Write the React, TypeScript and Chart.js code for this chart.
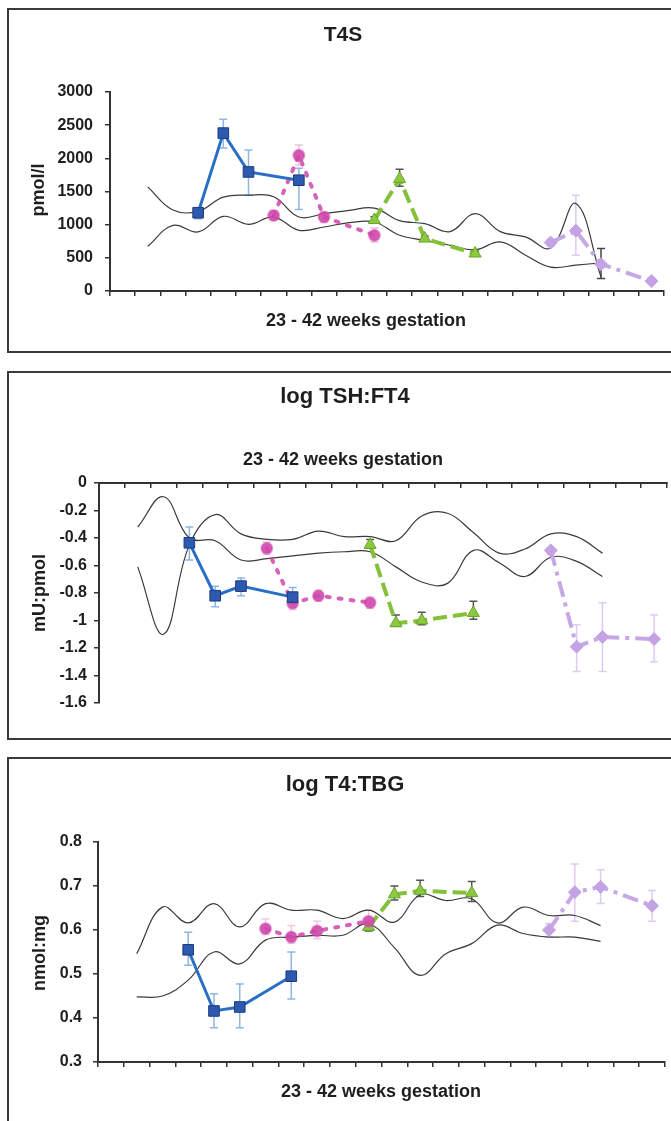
import React, { useEffect, useRef } from "react";
import { Chart, registerables } from "chart.js";

Chart.register(...registerables);

const FONT = '"Liberation Sans", Arial, Helvetica, sans-serif';
const n = null;

// 22 category slots along "23 - 42 weeks gestation" (no printed labels)
const categories = ["", "", "", "", "", "", "", "", "", "", "", "", "", "", "", "", "", "", "", "", "", ""];

// ---------- Panel 1: T4S (pmol/l) ----------
const t4sTicks = [0, 500, 1000, 1500, 2000, 2500, 3000];
const t4sBlue = [n, n, n, 1180, 2380, 1795, n, 1670, n, n, n, n, n, n, n, n, n, n, n, n, n, n];
const t4sBlueLo = [n, n, n, 1090, 2155, 1445, n, 1230, n, n, n, n, n, n, n, n, n, n, n, n, n, n];
const t4sBlueHi = [n, n, n, 1245, 2590, 2125, n, 1850, n, n, n, n, n, n, n, n, n, n, n, n, n, n];
const t4sPink = [n, n, n, n, n, n, 1140, 2045, 1115, n, 840, n, n, n, n, n, n, n, n, n, n, n];
const t4sPinkLo = [n, n, n, n, n, n, 1070, 1900, 1040, n, 740, n, n, n, n, n, n, n, n, n, n, n];
const t4sPinkHi = [n, n, n, n, n, n, 1210, 2200, 1190, n, 950, n, n, n, n, n, n, n, n, n, n, n];
const t4sGreen = [n, n, n, n, n, n, n, n, n, n, 1070, 1690, 790, n, 565, n, n, n, n, n, n, n];
const t4sGreenLo = [n, n, n, n, n, n, n, n, n, n, 1020, 1580, 760, n, 530, n, n, n, n, n, n, n];
const t4sGreenHi = [n, n, n, n, n, n, n, n, n, n, 1120, 1835, 830, n, 600, n, n, n, n, n, n, n];
const t4sLilac = [n, n, n, n, n, n, n, n, n, n, n, n, n, n, n, n, n, 730, 910, 405, n, 150];
const t4sLilacLo = [n, n, n, n, n, n, n, n, n, n, n, n, n, n, n, n, n, 680, 540, n, n, 110];
const t4sLilacHi = [n, n, n, n, n, n, n, n, n, n, n, n, n, n, n, n, n, 780, 1445, n, n, 190];
const t4sDarkLo = [n, n, n, n, n, n, n, n, n, n, n, n, n, n, n, n, n, n, n, 190, n, n];
const t4sDarkHi = [n, n, n, n, n, n, n, n, n, n, n, n, n, n, n, n, n, n, n, 640, n, n];
const t4sUpper = [n, 1570, 1220, 1200, 1415, 1445, 1420, 1115, 1165, 1215, 1250, 1060, 1015, 895, 1165, 895, 815, 650, 1320, 210, n, n];
const t4sLower = [n, 675, 990, 890, 1125, 1005, 1115, 915, 965, 1030, 1040, 840, 765, 690, 620, 740, 540, 360, 390, 425, n, n];

// ---------- Panel 2: log TSH:FT4 (mU:pmol) ----------
const tshBlue = [n, n, n, -0.435, -0.82, -0.75, n, -0.83, n, n, n, n, n, n, n, n, n, n, n, n, n, n];
const tshBlueLo = [n, n, n, -0.56, -0.9, -0.82, n, -0.88, n, n, n, n, n, n, n, n, n, n, n, n, n, n];
const tshBlueHi = [n, n, n, -0.32, -0.75, -0.69, n, -0.76, n, n, n, n, n, n, n, n, n, n, n, n, n, n];
const tshPink = [n, n, n, n, n, n, -0.475, -0.875, -0.82, n, -0.87, n, n, n, n, n, n, n, n, n, n, n];
const tshPinkLo = [n, n, n, n, n, n, -0.52, -0.92, -0.86, n, -0.91, n, n, n, n, n, n, n, n, n, n, n];
const tshPinkHi = [n, n, n, n, n, n, -0.43, -0.83, -0.78, n, -0.83, n, n, n, n, n, n, n, n, n, n, n];
const tshGreen = [n, n, n, n, n, n, n, n, n, n, -0.45, -1.02, -1.0, n, -0.945, n, n, n, n, n, n, n];
const tshGreenLo = [n, n, n, n, n, n, n, n, n, n, -0.47, -1.04, -1.03, n, -0.99, n, n, n, n, n, n, n];
const tshGreenHi = [n, n, n, n, n, n, n, n, n, n, -0.41, -0.96, -0.94, n, -0.86, n, n, n, n, n, n, n];
const tshLilac = [n, n, n, n, n, n, n, n, n, n, n, n, n, n, n, n, n, -0.49, -1.19, -1.12, n, -1.135];
const tshLilacLo = [n, n, n, n, n, n, n, n, n, n, n, n, n, n, n, n, n, -0.52, -1.37, -1.37, n, -1.3];
const tshLilacHi = [n, n, n, n, n, n, n, n, n, n, n, n, n, n, n, n, n, -0.47, -1.03, -0.87, n, -0.96];
const tshRefA = [n, -0.32, -0.1, -0.4, -0.42, -0.56, -0.55, -0.53, -0.51, -0.5, -0.5, -0.61, -0.72, -0.73, -0.49, -0.58, -0.68, -0.54, -0.57, -0.68, n, n];
const tshRefB = [n, -0.61, -1.1, -0.45, -0.23, -0.37, -0.41, -0.41, -0.35, -0.39, -0.39, -0.42, -0.24, -0.22, -0.36, -0.51, -0.48, -0.37, -0.39, -0.51, n, n];

// ---------- Panel 3: log T4:TBG (nmol:mg) ----------
const tbgBlue = [n, n, n, 0.555, 0.416, 0.425, n, 0.495, n, n, n, n, n, n, n, n, n, n, n, n, n, n];
const tbgBlueLo = [n, n, n, 0.52, 0.378, 0.378, n, 0.443, n, n, n, n, n, n, n, n, n, n, n, n, n, n];
const tbgBlueHi = [n, n, n, 0.595, 0.455, 0.477, n, 0.55, n, n, n, n, n, n, n, n, n, n, n, n, n, n];
const tbgPink = [n, n, n, n, n, n, 0.603, 0.584, 0.598, n, 0.62, n, n, n, n, n, n, n, n, n, n, n];
const tbgPinkLo = [n, n, n, n, n, n, 0.59, 0.57, 0.58, n, 0.6, n, n, n, n, n, n, n, n, n, n, n];
const tbgPinkHi = [n, n, n, n, n, n, 0.625, 0.61, 0.62, n, 0.645, n, n, n, n, n, n, n, n, n, n, n];
const tbgGreen = [n, n, n, n, n, n, n, n, n, n, 0.607, 0.681, 0.689, n, 0.684, n, n, n, n, n, n, n];
const tbgGreenLo = [n, n, n, n, n, n, n, n, n, n, 0.598, 0.668, 0.676, n, 0.665, n, n, n, n, n, n, n];
const tbgGreenHi = [n, n, n, n, n, n, n, n, n, n, 0.617, 0.7, 0.713, n, 0.71, n, n, n, n, n, n, n];
const tbgLilac = [n, n, n, n, n, n, n, n, n, n, n, n, n, n, n, n, n, 0.6, 0.686, 0.698, n, 0.655];
const tbgLilacLo = [n, n, n, n, n, n, n, n, n, n, n, n, n, n, n, n, n, 0.585, 0.62, 0.66, n, 0.62];
const tbgLilacHi = [n, n, n, n, n, n, n, n, n, n, n, n, n, n, n, n, n, 0.615, 0.75, 0.737, n, 0.69];
const tbgUpper = [n, 0.546, 0.652, 0.616, 0.66, 0.607, 0.66, 0.645, 0.645, 0.626, 0.645, 0.618, 0.68, 0.667, 0.671, 0.616, 0.652, 0.633, 0.633, 0.61, n, n];
const tbgLower = [n, 0.448, 0.45, 0.486, 0.55, 0.523, 0.577, 0.584, 0.588, 0.588, 0.614, 0.56, 0.497, 0.546, 0.569, 0.611, 0.592, 0.584, 0.584, 0.574, n, n];

const AXIS = "#333333";
const TEXT = "#1e1e1e";

function errorPlugin(bars: any[]) {
  return {
    id: "errorBars",
    beforeDatasetsDraw(chart: any) {
      const ctx = chart.ctx;
      const xs = chart.scales.x;
      const ys = chart.scales.y;
      bars.forEach((b) => {
        ctx.save();
        ctx.strokeStyle = b.color;
        ctx.lineWidth = 1.5;
        b.lo.forEach((lo: any, i: number) => {
          const hi = b.hi[i];
          if (lo == null || hi == null) return;
          const px = xs.getPixelForValue(i);
          const y1 = ys.getPixelForValue(lo);
          const y2 = ys.getPixelForValue(hi);
          ctx.beginPath();
          ctx.moveTo(px, y1);
          ctx.lineTo(px, y2);
          ctx.moveTo(px - 4, y1);
          ctx.lineTo(px + 4, y1);
          ctx.moveTo(px - 4, y2);
          ctx.lineTo(px + 4, y2);
          ctx.stroke();
        });
        ctx.restore();
      });
    },
  };
}

function textPlugin(items: any[]) {
  return {
    id: "panelText",
    afterDraw(chart: any) {
      const ctx = chart.ctx;
      items.forEach((t) => {
        ctx.save();
        ctx.fillStyle = TEXT;
        ctx.font = `bold ${t.size}px ${FONT}`;
        ctx.textAlign = "center";
        ctx.textBaseline = "middle";
        ctx.translate(t.x, t.y);
        if (t.rotate) ctx.rotate(-Math.PI / 2);
        ctx.fillText(t.text, 0, 0);
        ctx.restore();
      });
    },
  };
}

function datasets(blue: any[], pink: any[], green: any[], lilac: any[], refA: any[], refB: any[]) {
  return [
    {
      data: blue,
      borderColor: "#2a6fc6",
      borderWidth: 3,
      backgroundColor: "#2d5aae",
      pointBackgroundColor: "#2d5aae",
      pointBorderColor: "#1b3b80",
      pointBorderWidth: 1,
      pointStyle: "rect",
      pointRadius: 7.5,
      spanGaps: true,
      tension: 0,
    },
    {
      data: pink,
      borderColor: "rgba(208,72,172,0.85)",
      borderWidth: 4,
      borderDash: [3, 9],
      borderCapStyle: "round",
      pointBackgroundColor: "rgba(208,72,172,0.9)",
      pointBorderColor: "rgba(208,72,172,0.5)",
      pointBorderWidth: 2,
      pointStyle: "circle",
      pointRadius: 5.5,
      spanGaps: true,
      tension: 0,
    },
    {
      data: green,
      borderColor: "#84c03a",
      borderWidth: 4,
      borderDash: [14, 6],
      pointBackgroundColor: "#8cc940",
      pointBorderColor: "#6aa52a",
      pointBorderWidth: 1,
      pointStyle: "triangle",
      pointRadius: 7,
      spanGaps: true,
      tension: 0,
    },
    {
      data: lilac,
      borderColor: "#c7a8e6",
      borderWidth: 4,
      borderDash: [16, 6, 4, 6],
      pointBackgroundColor: "#c4a3e4",
      pointBorderColor: "#c4a3e4",
      pointBorderWidth: 1,
      pointStyle: "rectRot",
      pointRadius: 6.5,
      spanGaps: true,
      tension: 0,
    },
    { data: refA, borderColor: "#3a3a3a", borderWidth: 1.2, pointRadius: 0, tension: 0.4, spanGaps: false },
    { data: refB, borderColor: "#3a3a3a", borderWidth: 1.2, pointRadius: 0, tension: 0.4, spanGaps: false },
  ];
}

function numLabel(v: any) {
  return String(Math.round(Number(v) * 10) / 10);
}

function buildConfig(p: any) {
  return {
    type: "line",
    data: {
      labels: categories,
      datasets: datasets(p.blue, p.pink, p.green, p.lilac, p.refA, p.refB),
    },
    options: {
      responsive: false,
      animation: false,
      events: [],
      devicePixelRatio: 1,
      layout: { padding: p.padding },
      plugins: { legend: { display: false }, tooltip: { enabled: false }, title: { display: false } },
      scales: {
        x: {
          type: "category",
          position: p.xPos,
          offset: true,
          grid: {
            display: true,
            offset: true,
            drawOnChartArea: false,
            drawTicks: true,
            tickLength: p.xTick,
            color: AXIS,
            lineWidth: 1.5,
          },
          border: { display: true, color: AXIS, width: 2 },
          ticks: { display: false },
          afterFit: (s: any) => {
            s.height = p.xHeight;
          },
        },
        y: {
          min: p.yMin,
          max: p.yMax,
          ticks: {
            stepSize: p.yStep,
            color: TEXT,
            padding: p.yPad,
            font: { family: FONT, size: 16, weight: "bold" },
            callback: numLabel,
          },
          grid: { display: true, drawOnChartArea: false, drawTicks: true, tickLength: 5, color: AXIS, lineWidth: 1.5 },
          border: { display: true, color: AXIS, width: 2 },
          afterFit: (s: any) => {
            s.width = p.yWidth;
          },
        },
      },
    },
    plugins: [errorPlugin(p.errors), textPlugin(p.texts)],
  };
}

const panel1 = {
  blue: t4sBlue, pink: t4sPink, green: t4sGreen, lilac: t4sLilac, refA: t4sUpper, refB: t4sLower,
  yMin: t4sTicks[0], yMax: t4sTicks[t4sTicks.length - 1], yStep: 500, yPad: 12, yWidth: 101,
  xPos: "bottom", xTick: 5, xHeight: 60,
  padding: { top: 82, left: 0, right: 21, bottom: 0 },
  errors: [
    { lo: t4sLilacLo, hi: t4sLilacHi, color: "rgba(200,170,230,0.6)" },
    { lo: t4sDarkLo, hi: t4sDarkHi, color: "#444444" },
    { lo: t4sGreenLo, hi: t4sGreenHi, color: "#555555" },
    { lo: t4sPinkLo, hi: t4sPinkHi, color: "rgba(225,150,205,0.6)" },
    { lo: t4sBlueLo, hi: t4sBlueHi, color: "#8fb6e2" },
  ],
  texts: [
    { text: "T4S", x: 334, y: 25, size: 21 },
    { text: "23 - 42 weeks gestation", x: 357, y: 311, size: 18 },
    { text: "pmol/l", x: 30, y: 180, size: 18, rotate: true },
  ],
};

const panel2 = {
  blue: tshBlue, pink: tshPink, green: tshGreen, lilac: tshLilac, refA: tshRefA, refB: tshRefB,
  yMin: -1.6, yMax: 0, yStep: 0.2, yPad: 7, yWidth: 90,
  xPos: "top", xTick: -5, xHeight: 10,
  padding: { top: 100, left: 0, right: 18, bottom: 35 },
  errors: [
    { lo: tshLilacLo, hi: tshLilacHi, color: "rgba(200,170,230,0.6)" },
    { lo: tshGreenLo, hi: tshGreenHi, color: "#555555" },
    { lo: tshPinkLo, hi: tshPinkHi, color: "rgba(225,150,205,0.5)" },
    { lo: tshBlueLo, hi: tshBlueHi, color: "#8fb6e2" },
  ],
  texts: [
    { text: "log TSH:FT4", x: 336, y: 24, size: 22 },
    { text: "23 - 42 weeks gestation", x: 334, y: 87, size: 18 },
    { text: "mU:pmol", x: 31, y: 220, size: 18, rotate: true },
  ],
};

const panel3 = {
  blue: tbgBlue, pink: tbgPink, green: tbgGreen, lilac: tbgLilac, refA: tbgUpper, refB: tbgLower,
  yMin: 0.3, yMax: 0.8, yStep: 0.1, yPad: 11, yWidth: 89,
  xPos: "bottom", xTick: 5, xHeight: 93,
  padding: { top: 83, left: 0, right: 20, bottom: 0 },
  errors: [
    { lo: tbgLilacLo, hi: tbgLilacHi, color: "rgba(200,170,230,0.6)" },
    { lo: tbgGreenLo, hi: tbgGreenHi, color: "#555555" },
    { lo: tbgPinkLo, hi: tbgPinkHi, color: "rgba(225,150,205,0.5)" },
    { lo: tbgBlueLo, hi: tbgBlueHi, color: "#8fb6e2" },
  ],
  texts: [
    { text: "log T4:TBG", x: 336, y: 26, size: 22 },
    { text: "23 - 42 weeks gestation", x: 372, y: 333, size: 18 },
    { text: "nmol:mg", x: 31, y: 194, size: 18, rotate: true },
  ],
};

function Panel({ top, height, cfg }: { top: number; height: number; cfg: any }) {
  const ref = useRef<HTMLCanvasElement | null>(null);
  useEffect(() => {
    if (!ref.current) return;
    const chart = new Chart(ref.current, buildConfig(cfg) as any);
    return () => chart.destroy();
  }, [cfg]);
  const w = 676;
  const h = height - 4;
  return (
    <div
      style={{
        position: "absolute",
        left: 7,
        top,
        width: 680,
        height,
        border: "2px solid #3a3a3a",
        boxSizing: "border-box",
        background: "#ffffff",
      }}
    >
      <canvas ref={ref} width={w} height={h} style={{ display: "block", width: w, height: h }} />
    </div>
  );
}

export default function App() {
  return (
    <div
      style={{
        position: "absolute",
        left: 0,
        top: 0,
        width: 671,
        height: 1121,
        overflow: "hidden",
        background: "#ffffff",
      }}
    >
      <Panel top={8} height={345} cfg={panel1} />
      <Panel top={371} height={369} cfg={panel2} />
      <Panel top={757} height={400} cfg={panel3} />
    </div>
  );
}
